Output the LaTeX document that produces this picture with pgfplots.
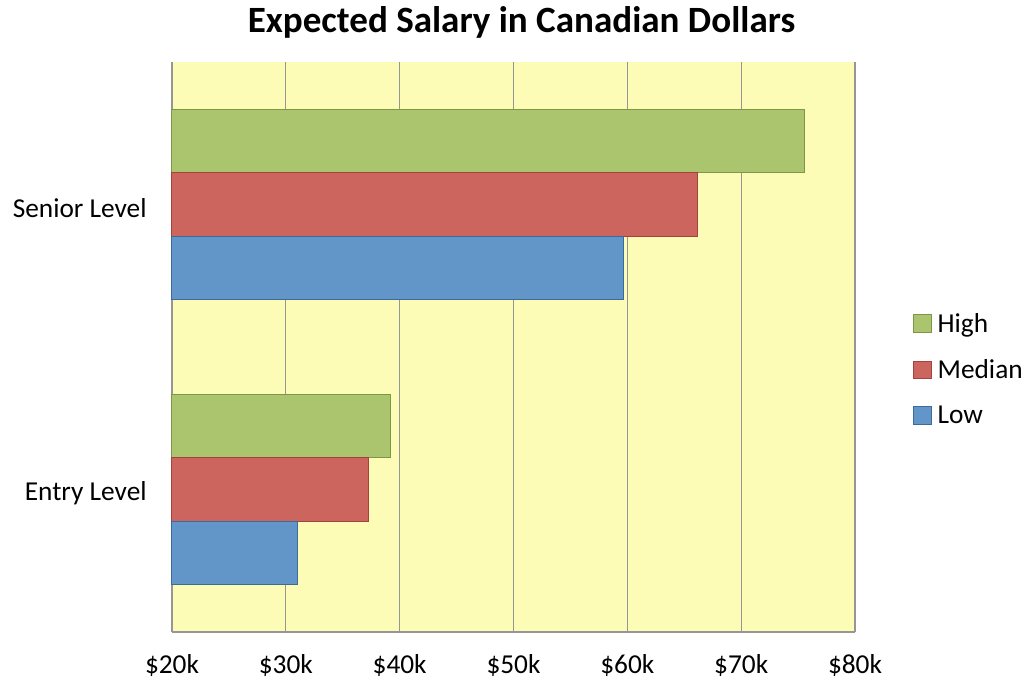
\documentclass[border=0pt]{standalone}
\usepackage{fontspec}
\setmainfont{Carlito}
\usepackage{pgfplots}
\pgfplotsset{compat=1.18}
\definecolor{bgY}{RGB}{253,252,182}
\definecolor{cHigh}{RGB}{171,196,110}
\definecolor{cHighE}{RGB}{125,150,72}
\definecolor{cMed}{RGB}{205,101,95}
\definecolor{cMedE}{RGB}{165,65,62}
\definecolor{cLow}{RGB}{98,150,200}
\definecolor{cLowE}{RGB}{62,105,155}
\definecolor{gridG}{RGB}{150,150,150}
\begin{document}
\begin{tikzpicture}
\begin{axis}[
  name=ax,
  scale only axis,
  width=512.25pt, height=427.5pt,
  xbar,
  xmin=20, xmax=80,
  ymin=-0.5, ymax=1.5,
  bar width=0.222,
  axis background/.style={fill=bgY},
  axis x line*=bottom, axis y line*=left,
  axis line style={gridG, line width=1pt, -},
  xtick={20,30,40,50,60,70,80},
  xticklabels={\$20k,\$30k,\$40k,\$50k,\$60k,\$70k,\$80k},
  ytick={0,1},
  yticklabels={Entry Level,Senior Level},
  major tick length=0pt,
  xmajorgrids,
  grid style={gridG, line width=1pt},
  tick label style={font=\fontsize{20.5}{24}\selectfont, text=black},
  xticklabel style={yshift=-13pt},
  yticklabel style={xshift=-15.5pt, yshift=-2.5pt},
  legend style={at={(rel axis cs:1.085,0.461)}, anchor=west, draw=none, fill=none,
    font=\fontsize{20.5}{24}\selectfont, row sep=15pt, inner sep=0pt,
    legend cell align=left},
  legend image code/.code={\draw[#1] (0pt,-6.5pt) rectangle (13pt,6.5pt); \path (15.5pt,0pt);},
  title={\textbf{Expected Salary in Canadian Dollars}},
  title style={font=\fontsize{27.8}{32}\selectfont, at={(rel axis cs:0.5,1)}, anchor=center, yshift=24pt, xshift=6pt},
  clip=false,
]
\addplot[fill=cHigh, draw=cHighE, line width=0.75pt, bar shift=0.222] coordinates {(39.2,0) (75.6,1)};
\addplot[fill=cMed, draw=cMedE, line width=0.75pt, bar shift=0] coordinates {(37.3,0) (66.2,1)};
\addplot[fill=cLow, draw=cLowE, line width=0.75pt, bar shift=-0.222] coordinates {(31.0,0) (59.7,1)};
\legend{High,Median,Low}
\end{axis}
\pgfresetboundingbox
\path[use as bounding box] ([xshift=-129pt,yshift=-38.25pt]ax.south west) rectangle ++(770.25pt,512.25pt);
\end{tikzpicture}
\end{document}
